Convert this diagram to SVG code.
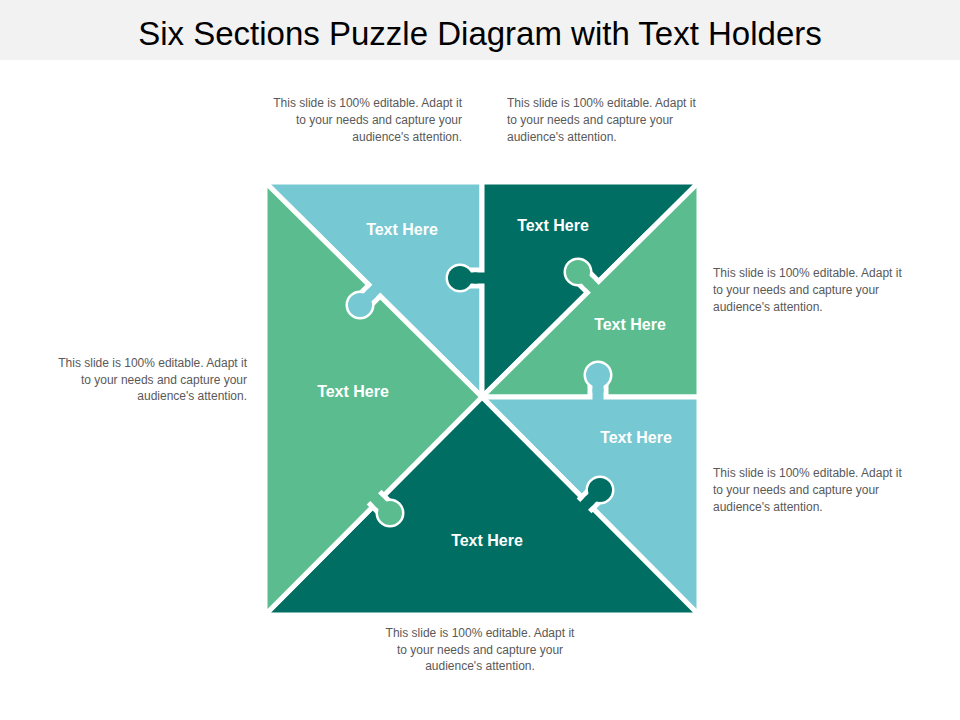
<svg xmlns="http://www.w3.org/2000/svg" width="960" height="720" viewBox="0 0 960 720">
<style>
.t{font-family:"Liberation Sans",Arial,sans-serif;font-size:12px;fill:#595959}
.l{font-family:"Liberation Sans",Arial,sans-serif;font-size:16px;font-weight:bold;fill:#fff;text-anchor:middle}
.p{stroke:#fff;stroke-width:5;stroke-linejoin:miter}
.lb{fill:#76C8D3}.dg{fill:#006E62}.lg{fill:#5BBD8F}
</style>
<defs>
<g id="k"><rect x="-8" y="0" width="16" height="20" class="p"/><circle r="12" class="p"/><circle r="12"/><rect x="-5.5" y="0" width="11" height="27"/></g>
</defs>
<rect width="960" height="720" fill="#fff"/>
<rect width="960" height="60" fill="#f2f2f2"/>
<text x="480" y="45" text-anchor="middle" font-family="Liberation Sans,Arial,sans-serif" font-size="33" fill="#000">Six Sections Puzzle Diagram with Text Holders</text>
<g id="p1"><polygon class="p lb" points="265,182 482,182 482,397"/></g>
<g id="p2"><polygon class="p dg" points="482,182 699,182 482,397"/></g>
<g id="p3"><polygon class="p lg" points="699,182 699,397 482,397"/></g>
<g id="p4"><polygon class="p lb" points="699,397 699,615 482,397"/></g>
<g id="p5"><polygon class="p dg" points="265,615 699,615 482,397"/></g>
<g id="p6"><polygon class="p lg" points="265,182 265,615 482,397"/></g>
<g id="knobs">
<use href="#k" class="dg" transform="translate(460,278) rotate(-90)"/>
<use href="#k" class="lb" transform="translate(598,375)"/>
<use href="#k" class="lb" transform="translate(360,305) rotate(-135)"/>
<use href="#k" class="lg" transform="translate(578,272) rotate(-45)"/>
<use href="#k" class="dg" transform="translate(600,490) rotate(45)"/>
<use href="#k" class="lg" transform="translate(390,513) rotate(135)"/>
</g>
<g id="labels">
<text class="l" x="402" y="235">Text Here</text>
<text class="l" x="553" y="231">Text Here</text>
<text class="l" x="630" y="330">Text Here</text>
<text class="l" x="636" y="443">Text Here</text>
<text class="l" x="353" y="397">Text Here</text>
<text class="l" x="487" y="546">Text Here</text>
</g>
<g id="notes">
<text class="t" text-anchor="end"><tspan x="462" y="107">This slide is 100% editable. Adapt it</tspan><tspan x="462" y="124">to your needs and capture your</tspan><tspan x="462" y="141">audience's attention.</tspan></text>
<text class="t"><tspan x="507" y="107">This slide is 100% editable. Adapt it</tspan><tspan x="507" y="124">to your needs and capture your</tspan><tspan x="507" y="141">audience's attention.</tspan></text>
<text class="t"><tspan x="713" y="277">This slide is 100% editable. Adapt it</tspan><tspan x="713" y="294">to your needs and capture your</tspan><tspan x="713" y="311">audience's attention.</tspan></text>
<text class="t"><tspan x="713" y="477">This slide is 100% editable. Adapt it</tspan><tspan x="713" y="494">to your needs and capture your</tspan><tspan x="713" y="511">audience's attention.</tspan></text>
<text class="t" text-anchor="end"><tspan x="247" y="367">This slide is 100% editable. Adapt it</tspan><tspan x="247" y="384">to your needs and capture your</tspan><tspan x="247" y="400">audience's attention.</tspan></text>
<text class="t" text-anchor="middle"><tspan x="480" y="637">This slide is 100% editable. Adapt it</tspan><tspan x="480" y="654">to your needs and capture your</tspan><tspan x="480" y="670">audience's attention.</tspan></text>
</g>
</svg>
